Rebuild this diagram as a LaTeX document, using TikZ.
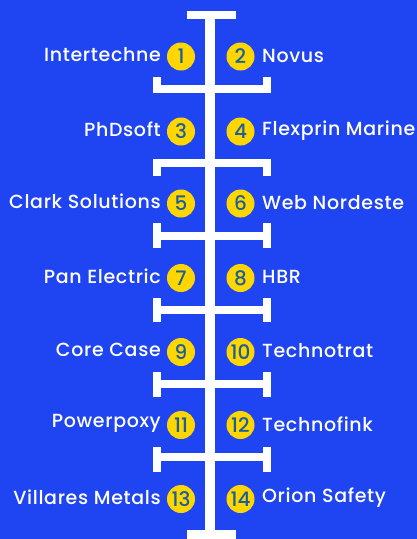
\documentclass[tikz,border=0pt]{standalone}
\usepackage{fontspec}
\setmainfont{Poppins}[UprightFont=* Medium]
\definecolor{bg}{HTML}{1F45F2}
\definecolor{ylw}{HTML}{FFD600}
\definecolor{num}{HTML}{1B5E9E}
\begin{document}
\begin{tikzpicture}[x=1pt,y=-1pt,
  bar/.style={fill=white,draw=none},
  badge/.style={circle,fill=ylw,minimum size=28pt,inner sep=0pt,text=num,font=\fontsize{20}{20}\selectfont},
  lbl/.style={text=white,inner sep=0pt,font=\fontsize{19}{19}\selectfont\addfontfeatures{LetterSpace=3.5}}]
\fill[bg] (0,0) rectangle (417,539);
\useasboundingbox (0,0) rectangle (417,539);
% spine and end bars
\fill[bar] (205,11) rectangle (215,539);
\fill[bar] (187,11) rectangle (236,19);
\fill[bar] (187,530) rectangle (236,539);
% cross bars
\fill[bar] (153,85) rectangle (271,93);
\fill[bar] (153,77) rectangle (161,93);
\fill[bar] (263,77) rectangle (271,93);
\fill[bar] (153,159) rectangle (271,167);
\fill[bar] (153,159) rectangle (161,176);
\fill[bar] (263,159) rectangle (271,176);
\foreach \a/\b/\c in {232/223/248, 306/298/322, 380/372/397, 453/447/472}{
  \fill[bar] (153,\a) rectangle (271,\a+8);
  \fill[bar] (153,\b) rectangle (161,\c);
  \fill[bar] (263,\b) rectangle (271,\c);
}
% badges and labels
\foreach \y/\l/\r/\ln/\rn [count=\i] in {
  56.5/1/2/Intertechne/Novus,
  131.5/3/4/PhDsoft/Flexprin Marine,
  203.5/5/6/Clark Solutions/Web Nordeste,
  278/7/8/Pan Electric/HBR,
  352/9/10/Core Case/Technotrat,
  425/11/12/Powerpoxy/Technofink,
  499/13/14/Villares Metals/Orion Safety}{
  \node[badge] (b\l) at (181,\y) {\l};
  \node[badge] (b\r) at (240.5,\y) {\r};
  \node[lbl,anchor=east] (t\l) at (161,\y-2) {\ln};
  \node[lbl,anchor=west] (t\r) at (262,\y-1) {\rn};
}
\end{tikzpicture}
\end{document}
